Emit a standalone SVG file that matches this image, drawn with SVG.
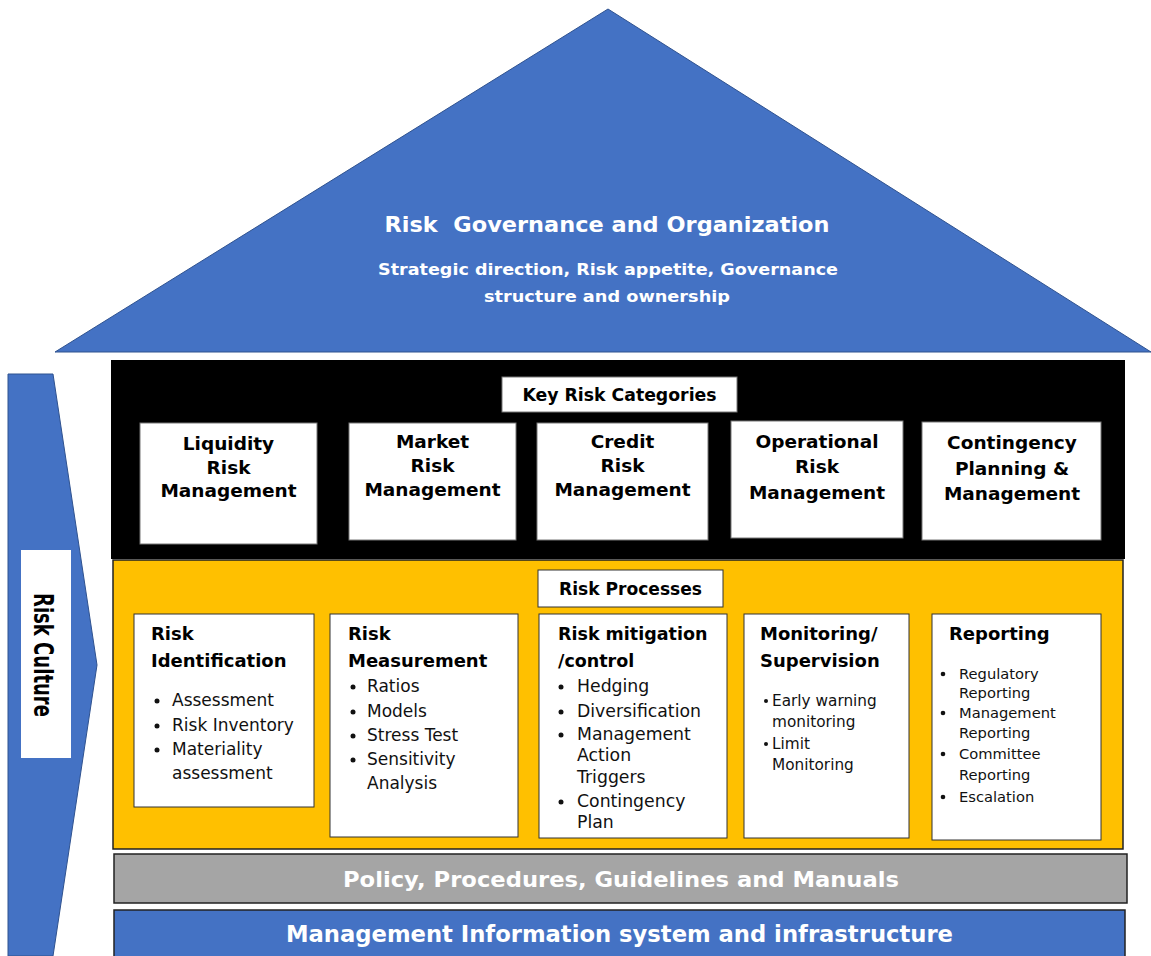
<svg xmlns="http://www.w3.org/2000/svg" width="1151" height="956" viewBox="0 0 1151 956">
<style>
.bf{font-family:"DejaVu Sans",Verdana,sans-serif;font-weight:bold}
.rf{font-family:"DejaVu Sans",Verdana,sans-serif}
.w{fill:#fff}
.k{fill:#000}
.t{fill:#111}
.cat{fill:#fff;stroke:#777;stroke-width:1}
.proc{fill:#fff;stroke:#333;stroke-width:1}
.b{fill:#111}
</style>
<rect width="1151" height="956" fill="#fff"/>
<g id="roof">
<polygon points="608,9 1151,352 55,352" fill="#4472C4" stroke="#2F528F" stroke-width="1"/>
<text class="bf w" x="607" y="231.5" font-size="22" text-anchor="middle" textLength="445" lengthAdjust="spacingAndGlyphs" xml:space="preserve" style="white-space:pre">Risk  Governance and Organization</text>
<text class="bf w" x="608" y="275" font-size="16.5" text-anchor="middle" textLength="460" lengthAdjust="spacingAndGlyphs">Strategic direction, Risk appetite, Governance</text>
<text class="bf w" x="607" y="302" font-size="16.5" text-anchor="middle" textLength="246" lengthAdjust="spacingAndGlyphs">structure and ownership</text>
</g>
<g id="risk-culture">
<polygon points="8,374 53,374 97,665 53,956 8,956" fill="#4472C4" stroke="#2F528F" stroke-width="1"/>
<rect x="21" y="550" width="50" height="208" fill="#fff"/>
<text class="bf k" transform="translate(34,655) rotate(90)" font-size="26" text-anchor="middle" textLength="124" lengthAdjust="spacingAndGlyphs">Risk Culture</text>
</g>
<g id="key-risk-categories">
<rect x="111" y="360" width="1014" height="199" fill="#000"/>
<rect x="502" y="377" width="235" height="35" fill="#fff" stroke="#777"/>
<text class="bf k" x="619.5" y="401" font-size="17.3" text-anchor="middle">Key Risk Categories</text>
</g>
<g id="cat-liquidity">
<rect class="cat" x="140" y="423" width="177" height="121"/>
<text class="bf k" font-size="18.5" text-anchor="middle"><tspan x="228.5" y="449.5">Liquidity</tspan><tspan x="228.5" y="473.5">Risk</tspan><tspan x="228.5" y="496.5">Management</tspan></text>
</g>
<g id="cat-market">
<rect class="cat" x="349" y="423" width="167" height="117"/>
<text class="bf k" font-size="18.5" text-anchor="middle"><tspan x="432.5" y="447.5">Market</tspan><tspan x="432.5" y="471.5">Risk</tspan><tspan x="432.5" y="495.5">Management</tspan></text>
</g>
<g id="cat-credit">
<rect class="cat" x="537" y="423" width="171" height="117"/>
<text class="bf k" font-size="18.5" text-anchor="middle"><tspan x="622.5" y="447.5">Credit</tspan><tspan x="622.5" y="471.5">Risk</tspan><tspan x="622.5" y="495.5">Management</tspan></text>
</g>
<g id="cat-operational">
<rect class="cat" x="731" y="421" width="172" height="117"/>
<text class="bf k" font-size="18.5" text-anchor="middle"><tspan x="817" y="447.5">Operational</tspan><tspan x="817" y="472.5">Risk</tspan><tspan x="817" y="498.5">Management</tspan></text>
</g>
<g id="cat-contingency">
<rect class="cat" x="922" y="422" width="179" height="118"/>
<text class="bf k" font-size="18.5" text-anchor="middle"><tspan x="1012" y="448.5">Contingency</tspan><tspan x="1012" y="474.5">Planning &amp;</tspan><tspan x="1012" y="499.5">Management</tspan></text>
</g>
<g id="risk-processes">
<rect x="113" y="560" width="1010" height="289" fill="#FFC000" stroke="#222" stroke-width="1.5"/>
<rect x="538" y="570" width="185" height="37" fill="#fff" stroke="#333"/>
<text class="bf k" x="630.5" y="595" font-size="17.1" text-anchor="middle">Risk Processes</text>
</g>
<g id="proc-identification">
<rect class="proc" x="134" y="614" width="180" height="193"/>
<text class="bf k" font-size="18" x="151"><tspan x="151" y="639.5">Risk</tspan><tspan x="151" y="666.5">Identification</tspan></text>
<circle class="b" cx="157" cy="701" r="2.5"/><circle class="b" cx="157" cy="726" r="2.5"/><circle class="b" cx="157" cy="750" r="2.5"/>
<text class="rf t" font-size="17"><tspan x="172" y="706">Assessment</tspan><tspan x="172" y="731">Risk Inventory</tspan><tspan x="172" y="755">Materiality</tspan><tspan x="172" y="779">assessment</tspan></text>
</g>
<g id="proc-measurement">
<rect class="proc" x="330" y="614" width="188" height="223"/>
<text class="bf k" font-size="18"><tspan x="348" y="639.5">Risk</tspan><tspan x="348" y="666.5">Measurement</tspan></text>
<circle class="b" cx="353" cy="687" r="2.5"/><circle class="b" cx="353" cy="712" r="2.5"/><circle class="b" cx="353" cy="736" r="2.5"/><circle class="b" cx="353" cy="760" r="2.5"/>
<text class="rf t" font-size="17"><tspan x="367" y="692">Ratios</tspan><tspan x="367" y="717">Models</tspan><tspan x="367" y="741">Stress Test</tspan><tspan x="367" y="765">Sensitivity</tspan><tspan x="367" y="789">Analysis</tspan></text>
</g>
<g id="proc-mitigation">
<rect class="proc" x="539" y="614" width="188" height="224"/>
<text class="bf k" font-size="17.5"><tspan x="558" y="639.5">Risk mitigation</tspan><tspan x="558" y="666.5">/control</tspan></text>
<circle class="b" cx="561" cy="687" r="2.5"/><circle class="b" cx="561" cy="712" r="2.5"/><circle class="b" cx="561" cy="735" r="2.5"/><circle class="b" cx="561" cy="802" r="2.5"/>
<text class="rf t" font-size="17.3"><tspan x="577" y="692">Hedging</tspan><tspan x="577" y="717">Diversification</tspan><tspan x="577" y="740">Management</tspan><tspan x="577" y="761">Action</tspan><tspan x="577" y="783">Triggers</tspan><tspan x="577" y="807">Contingency</tspan><tspan x="577" y="828">Plan</tspan></text>
</g>
<g id="proc-monitoring">
<rect class="proc" x="744" y="614" width="165" height="224"/>
<text class="bf k" font-size="18"><tspan x="760" y="639.5">Monitoring/</tspan><tspan x="760" y="666.5">Supervision</tspan></text>
<circle class="b" cx="766" cy="701" r="2"/><circle class="b" cx="766" cy="744" r="2"/>
<text class="rf t" font-size="15.3"><tspan x="772" y="705.5">Early warning</tspan><tspan x="772" y="726.5">monitoring</tspan><tspan x="772" y="748.5">Limit</tspan><tspan x="772" y="769.5">Monitoring</tspan></text>
</g>
<g id="proc-reporting">
<rect class="proc" x="932" y="614" width="169" height="226"/>
<text class="bf k" font-size="18" x="949" y="639.5">Reporting</text>
<circle class="b" cx="943" cy="674" r="2.3"/><circle class="b" cx="943" cy="713" r="2.3"/><circle class="b" cx="943" cy="754" r="2.3"/><circle class="b" cx="943" cy="797" r="2.3"/>
<text class="rf t" font-size="14.7"><tspan x="959" y="679">Regulatory</tspan><tspan x="959" y="698">Reporting</tspan><tspan x="959" y="718">Management</tspan><tspan x="959" y="738">Reporting</tspan><tspan x="959" y="759">Committee</tspan><tspan x="959" y="780">Reporting</tspan><tspan x="959" y="802">Escalation</tspan></text>
</g>
<g id="policy">
<rect x="114" y="854" width="1013" height="49" fill="#A5A5A5" stroke="#222" stroke-width="1.5"/>
<text class="bf w" x="621" y="887" font-size="22" text-anchor="middle" textLength="556" lengthAdjust="spacingAndGlyphs">Policy, Procedures, Guidelines and Manuals</text>
</g>
<g id="mis">
<rect x="114" y="910" width="1011" height="50" fill="#4472C4" stroke="#222" stroke-width="1.5"/>
<text class="bf w" x="619.5" y="942" font-size="22.5" text-anchor="middle" textLength="667" lengthAdjust="spacingAndGlyphs">Management Information system and infrastructure</text>
</g>
<g id="connectors"></g>
</svg>
